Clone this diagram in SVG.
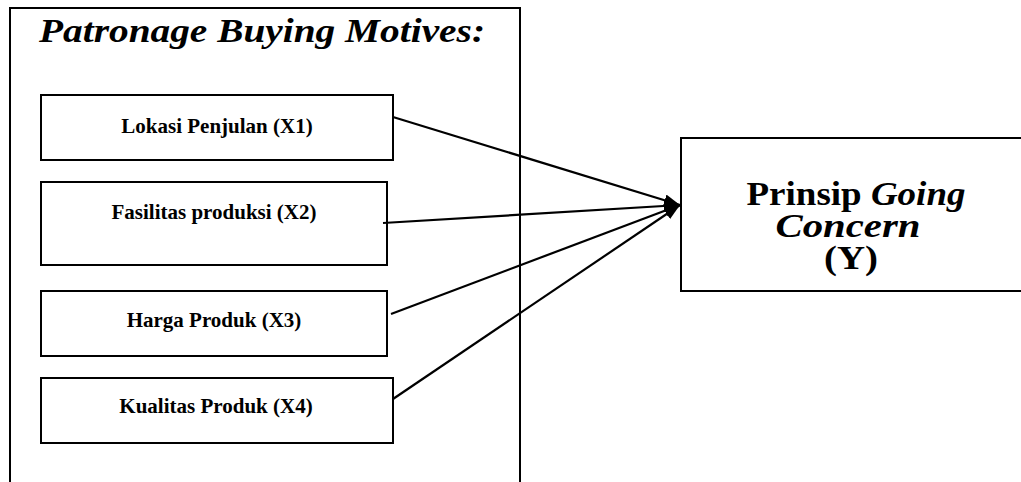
<svg xmlns="http://www.w3.org/2000/svg" width="1021" height="482" viewBox="0 0 1021 482">
<style>
.box{fill:#fff;stroke:#000;stroke-width:2}
.lbl{font-family:"Liberation Serif","Times New Roman",serif;font-weight:bold;font-size:21px;text-anchor:middle;fill:#000}
.big{font-family:"Liberation Serif","Times New Roman",serif;font-weight:bold;font-size:34px;text-anchor:middle;fill:#000}
.it{font-style:italic}
.con{stroke:#000;stroke-width:2.2;fill:none;marker-end:url(#ah)}
</style>
<defs>
<marker id="ah" viewBox="0 0 16 12" refX="16" refY="6" markerWidth="16" markerHeight="12" markerUnits="userSpaceOnUse" orient="auto">
<path d="M0,0 L16,6 L0,12 z" fill="#000"/>
</marker>
</defs>
<rect width="1021" height="482" fill="#fff"/>
<g id="group-patronage">
<rect class="box" x="10" y="8" width="510" height="480"/>
<text class="big it" x="262" y="42" textLength="446" lengthAdjust="spacingAndGlyphs">Patronage Buying Motives:</text>
</g>
<g id="node-x1">
<rect class="box" x="41" y="95" width="352" height="65"/>
<text class="lbl" x="217" y="133">Lokasi Penjulan (X1)</text>
</g>
<g id="node-x2">
<rect class="box" x="41" y="182" width="346" height="83"/>
<text class="lbl" x="214" y="219">Fasilitas produksi (X2)</text>
</g>
<g id="node-x3">
<rect class="box" x="41" y="291" width="346" height="65"/>
<text class="lbl" x="214" y="327">Harga Produk (X3)</text>
</g>
<g id="node-x4">
<rect class="box" x="41" y="378" width="352" height="65"/>
<text class="lbl" x="216" y="413">Kualitas Produk (X4)</text>
</g>
<g id="node-y">
<rect class="box" x="681" y="138" width="345" height="153"/>
<text class="big" x="856" y="205" textLength="219" lengthAdjust="spacingAndGlyphs">Prinsip <tspan class="it">Going</tspan></text>
<text class="big it" x="848" y="237" textLength="145" lengthAdjust="spacingAndGlyphs">Concern</text>
<text class="big" x="851" y="269" textLength="54" lengthAdjust="spacingAndGlyphs">(Y)</text>
</g>
<g id="connectors">
<line class="con" x1="393" y1="117" x2="680" y2="205"/>
<line class="con" x1="383" y1="223" x2="680" y2="205"/>
<line class="con" x1="391" y1="314" x2="680" y2="205"/>
<line class="con" x1="393" y1="399" x2="680" y2="205"/>
</g>
</svg>
